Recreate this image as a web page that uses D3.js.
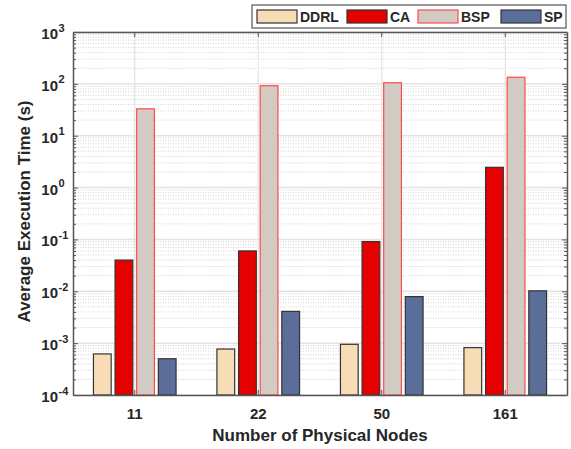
<!DOCTYPE html>
<meta charset="utf-8">
<head>
    <script src="https://d3js.org/d3.v7.min.js"></script>
    <style>
        body { margin: 0; background: #fff; }
        text { font-family: "Liberation Sans", Arial, sans-serif; font-weight: bold; fill: #262626; }
    </style>
</head>
<body>
<div id="chart"></div>
<script>
    // data
    const nodes = ["11", "22", "50", "161"]
    const series = ["DDRL", "CA", "BSP", "SP"]
    const ddrl = [0.00062, 0.00077, 0.00095, 0.00082]
    const ca = [0.040, 0.060, 0.091, 2.46]
    const bsp = [33, 92, 105, 134]
    const sp = [0.0005, 0.0041, 0.0079, 0.0102]
    const yExponents = [-4, -3, -2, -1, 0, 1, 2, 3]

    const values = { DDRL: ddrl, CA: ca, BSP: bsp, SP: sp }
    const fills = { DDRL: "#f8dcb6", CA: "#e60000", BSP: "#d2cbc3", SP: "#5a6e99" }
    const strokes = { DDRL: "#333", CA: "#333", BSP: "#ff4a4a", SP: "#333" }

    const W = 571, H = 449
    const pLeft = 73, pRight = 567, pTop = 32, pBottom = 395

    const svg = d3.select("#chart").append("svg")
        .attr("width", W)
        .attr("height", H)

    const x = d3.scaleBand()
        .domain(nodes)
        .range([pLeft, pRight])
        .paddingInner(0.268)
        .paddingOuter(0.134)

    const xSub = d3.scaleBand()
        .domain(series)
        .range([0, x.bandwidth()])
        .padding(0.18)

    const y = d3.scaleLog()
        .domain([1e-4, 1e3])
        .range([pBottom, pTop])

    // minor grid (dotted)
    const minor = []
    for (let e = -4; e < 3; e++) {
        for (let m = 2; m <= 9; m++) minor.push(m * Math.pow(10, e))
    }
    svg.append("g").selectAll("line")
        .data(minor)
        .join("line")
        .attr("x1", pLeft).attr("x2", pRight)
        .attr("y1", d => y(d)).attr("y2", d => y(d))
        .attr("stroke", "#c8c8c8")
        .attr("stroke-width", 0.8)
        .attr("stroke-dasharray", "1,1.5")

    // major grid
    svg.append("g").selectAll("line")
        .data(yExponents)
        .join("line")
        .attr("x1", pLeft).attr("x2", pRight)
        .attr("y1", d => y(Math.pow(10, d))).attr("y2", d => y(Math.pow(10, d)))
        .attr("stroke", "#e3e3e3")
        .attr("stroke-width", 1.5)

    svg.append("g").selectAll("line")
        .data(nodes)
        .join("line")
        .attr("x1", d => x(d) + x.bandwidth() / 2).attr("x2", d => x(d) + x.bandwidth() / 2)
        .attr("y1", pTop).attr("y2", pBottom)
        .attr("stroke", "#e3e3e3")
        .attr("stroke-width", 1.2)

    // bars
    const groups = svg.append("g").selectAll("g")
        .data(nodes)
        .join("g")
        .attr("transform", d => `translate(${x(d)},0)`)

    groups.selectAll("rect")
        .data((d, i) => series.map(s => ({ s: s, v: values[s][i] })))
        .join("rect")
        .attr("x", d => xSub(d.s))
        .attr("width", xSub.bandwidth())
        .attr("y", d => y(d.v))
        .attr("height", d => pBottom - y(d.v))
        .attr("fill", d => fills[d.s])
        .attr("stroke", d => strokes[d.s])
        .attr("stroke-width", 1.2)

    // axes box
    const axisColor = "#555"
    const allTicks = minor.concat(yExponents.map(e => Math.pow(10, e)))
    const isMajor = d => yExponents.some(e => Math.abs(Math.pow(10, e) - d) < d * 1e-6)

    const yAx = svg.append("g")
        .attr("transform", `translate(${pLeft},0)`)
        .call(d3.axisLeft(y).tickValues(allTicks).tickFormat("").tickSizeInner(-3).tickSizeOuter(0))
    yAx.selectAll("line").attr("stroke", axisColor)
    yAx.selectAll(".tick line").filter(isMajor).attr("x2", 5)

    const yAxR = svg.append("g")
        .attr("transform", `translate(${pRight},0)`)
        .call(d3.axisRight(y).tickValues(allTicks).tickFormat("").tickSizeInner(-3).tickSizeOuter(0))
    yAxR.selectAll("line").attr("stroke", axisColor)
    yAxR.selectAll(".tick line").filter(isMajor).attr("x2", -5)

    const xAx = svg.append("g")
        .attr("transform", `translate(0,${pBottom})`)
        .call(d3.axisBottom(x).tickSizeInner(-5).tickSizeOuter(0).tickPadding(13))
    xAx.selectAll("line").attr("stroke", axisColor)
    xAx.selectAll("text")
        .style("font-size", "15px")
        .style("font-family", "Liberation Sans, Arial, sans-serif")
        .style("font-weight", "bold")
        .attr("fill", "#262626")

    const xAxT = svg.append("g")
        .attr("transform", `translate(0,${pTop})`)
        .call(d3.axisTop(x).tickSizeInner(-5).tickSizeOuter(0).tickFormat(""))
    xAxT.selectAll("line").attr("stroke", axisColor)

    svg.selectAll(".domain").attr("stroke", axisColor).attr("stroke-width", 1.5)

    // y tick labels 10^n
    svg.append("g").selectAll("text")
        .data(yExponents)
        .join("text")
        .attr("x", 58)
        .attr("y", d => y(Math.pow(10, d)) + 7)
        .attr("text-anchor", "end")
        .style("font-size", "15px")
        .text("10")
    svg.append("g").selectAll("text")
        .data(yExponents)
        .join("text")
        .attr("x", 58.5)
        .attr("y", d => y(Math.pow(10, d)) - 0.5)
        .style("font-size", "11px")
        .text(d => d)

    // axis titles
    svg.append("text")
        .attr("x", (pLeft + pRight) / 2)
        .attr("y", 441)
        .attr("text-anchor", "middle")
        .style("font-size", "17px")
        .text("Number of Physical Nodes")

    svg.append("text")
        .attr("transform", `translate(30,${(pTop + pBottom) / 2 - 2}) rotate(-90)`)
        .attr("text-anchor", "middle")
        .style("font-size", "17px")
        .text("Average Execution Time (s)")

    // legend
    const lg = svg.append("g")
    lg.append("rect")
        .attr("x", 252).attr("y", 5)
        .attr("width", 314).attr("height", 23)
        .attr("fill", "#fff")
        .attr("stroke", "#555")
        .attr("stroke-width", 1.2)
    const legendX = [257, 347, 418, 501]
    series.forEach((s, i) => {
        lg.append("rect")
            .attr("x", legendX[i]).attr("y", 10)
            .attr("width", 40).attr("height", 13)
            .attr("fill", fills[s])
            .attr("stroke", strokes[s])
            .attr("stroke-width", 1.2)
        lg.append("text")
            .attr("x", legendX[i] + 43).attr("y", 22)
            .style("font-size", "14px")
            .text(s)
    })
</script>
</body>
